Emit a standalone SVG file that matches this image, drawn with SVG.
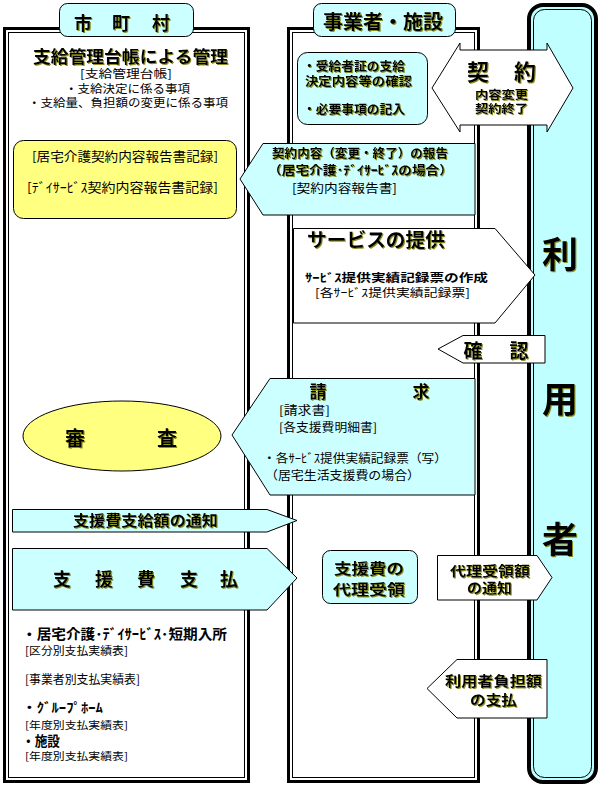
<svg xmlns="http://www.w3.org/2000/svg" width="600" height="787" viewBox="0 0 600 787">
<defs>
<filter id="sh" x="-5%" y="-20%" width="110%" height="140%">
<feDropShadow dx="1" dy="1" stdDeviation="0" flood-color="#7a7a00" flood-opacity="0.85"/>
</filter>
<style>
text{font-family:"Noto Sans CJK JP","Noto Sans CJK SC",sans-serif;fill:#000}
.b{font-weight:700}
.s{filter:url(#sh)}
.m{text-anchor:middle}
.ln{stroke:#000;stroke-width:1}
.cy{fill:#CCFFFF}
.ye{fill:#FFFF80}
.wh{fill:#FFFFFF}
.thick{fill:none;stroke:#000;stroke-width:3}
.thin{fill:none;stroke:#000;stroke-width:1}
</style>
</defs>
<rect width="600" height="787" fill="#fff"/>

<g id="panel-municipality">
<rect x="4.5" y="28.5" width="244" height="753" class="thick" fill="#fff"/>
<rect x="8.5" y="32.5" width="236" height="745" class="thin"/>
<rect x="59.5" y="3.5" width="134" height="33" rx="8" class="cy ln"/>
<text class="b s m" x="83" y="30" font-size="18">市</text>
<text class="b s m" x="121" y="30" font-size="18">町</text>
<text class="b s m" x="161" y="30" font-size="18">村</text>
<text class="b s m" x="130.5" y="63" font-size="16.5" textLength="195" lengthAdjust="spacingAndGlyphs">支給管理台帳による管理</text>
<text class="m" x="126" y="78" font-size="11.5" textLength="92" lengthAdjust="spacingAndGlyphs">[支給管理台帳]</text>
<text class="m" x="127.5" y="92.5" font-size="11.5" textLength="125" lengthAdjust="spacingAndGlyphs">・支給決定に係る事項</text>
<text class="m" x="128" y="107" font-size="11.5" textLength="200" lengthAdjust="spacingAndGlyphs">・支給量、負担額の変更に係る事項</text>
</g>

<g id="panel-provider">
<rect x="288.5" y="28.5" width="190" height="753" class="thick" fill="#fff"/>
<rect x="292.5" y="32.5" width="182" height="745" class="thin"/>
<rect x="313.5" y="3.5" width="142" height="33" rx="8" class="cy ln"/>
<text class="b s m" x="383" y="29" font-size="19" textLength="120" lengthAdjust="spacingAndGlyphs">事業者・施設</text>
</g>

<g id="panel-user">
<rect x="529" y="5" width="67" height="777" rx="14" fill="#C0FFFF" stroke="#000" stroke-width="4"/>
<rect x="533.5" y="9.5" width="58" height="768" rx="11" class="thin"/>
<text class="b s m" x="560" y="268" font-size="36">利</text>
<text class="b s m" x="560" y="413" font-size="36">用</text>
<text class="b s m" x="560" y="553" font-size="36">者</text>
</g>

<g id="node-report-record">
<rect x="13.5" y="140.5" width="223" height="78" rx="10" class="ye ln"/>
<text class="m" x="125" y="161" font-size="13" textLength="186" lengthAdjust="spacingAndGlyphs">[居宅介護契約内容報告書記録]</text>
<text class="m" x="122.5" y="192" font-size="13" textLength="191" lengthAdjust="spacingAndGlyphs">[ﾃﾞｲｻｰﾋﾞｽ契約内容報告書記録]</text>
</g>

<g id="node-review">
<ellipse cx="122" cy="436" rx="99" ry="35" class="ye ln"/>
<text class="b s m" x="75" y="446" font-size="20">審</text>
<text class="b s m" x="167" y="446" font-size="20">査</text>
</g>

<g id="node-payment-records">
<text class="b" x="22" y="639" font-size="14" textLength="205" lengthAdjust="spacingAndGlyphs">・居宅介護･ﾃﾞｲｻｰﾋﾞｽ･短期入所</text>
<text x="25" y="655" font-size="11.5" textLength="103" lengthAdjust="spacingAndGlyphs">[区分別支払実績表]</text>
<text x="25" y="684" font-size="12" textLength="115" lengthAdjust="spacingAndGlyphs">[事業者別支払実績表]</text>
<text class="b" x="22" y="712" font-size="13" textLength="81" lengthAdjust="spacingAndGlyphs">・ｸﾞﾙｰﾌﾟﾎｰﾑ</text>
<text x="25" y="729" font-size="10" textLength="103" lengthAdjust="spacingAndGlyphs">[年度別支払実績表]</text>
<text class="b" x="22" y="746" font-size="14" textLength="38" lengthAdjust="spacingAndGlyphs">・施設</text>
<text x="25" y="760" font-size="10" textLength="103" lengthAdjust="spacingAndGlyphs">[年度別支払実績表]</text>
</g>

<g id="node-check">
<rect x="297.5" y="52.5" width="130" height="72" rx="10" class="cy ln"/>
<text class="b s" x="303" y="71" font-size="12" textLength="102" lengthAdjust="spacingAndGlyphs">・受給者証の支給</text>
<text class="b s" x="305" y="86" font-size="12" textLength="107" lengthAdjust="spacingAndGlyphs">決定内容等の確認</text>
<text class="b s" x="303" y="114" font-size="12" textLength="102" lengthAdjust="spacingAndGlyphs">・必要事項の記入</text>
</g>

<g id="node-proxy">
<rect x="322.5" y="550.5" width="95" height="53" rx="8" class="cy ln"/>
<text class="b s m" x="369" y="574" font-size="14.5" textLength="70" lengthAdjust="spacingAndGlyphs">支援費の</text>
<text class="b s m" x="369" y="595" font-size="14.5" textLength="72" lengthAdjust="spacingAndGlyphs">代理受領</text>
</g>

<g id="connectors">
<g id="arrow-contract">
<polygon points="432,88 460,43 460,50 547,50 547,43 573,88 547,132 547,125 460,125 460,132" class="wh ln"/>
<text class="b s m" x="478" y="80" font-size="22">契</text>
<text class="b s m" x="525" y="80" font-size="22">約</text>
<text class="b s m" x="501.5" y="99" font-size="11.5" textLength="53" lengthAdjust="spacingAndGlyphs">内容変更</text>
<text class="b s m" x="501.5" y="112.5" font-size="11.5" textLength="53" lengthAdjust="spacingAndGlyphs">契約終了</text>
</g>
<g id="arrow-report">
<polygon points="240,179 263,143.5 475,143.5 475,215 263,215" class="cy ln"/>
<text class="b s m" x="360" y="158" font-size="12" textLength="176" lengthAdjust="spacingAndGlyphs">契約内容（変更・終了）の報告</text>
<text class="b s m" x="360.5" y="175" font-size="12" textLength="185" lengthAdjust="spacingAndGlyphs">（居宅介護･ﾃﾞｲｻｰﾋﾞｽの場合）</text>
<text x="292" y="192.5" font-size="12.5" textLength="105" lengthAdjust="spacingAndGlyphs">[契約内容報告書]</text>
</g>
<g id="arrow-service">
<polygon points="293.5,228.5 495,228.5 535,275 495,323 293.5,323" class="wh ln"/>
<text class="b s" x="307" y="247" font-size="19" textLength="138" lengthAdjust="spacingAndGlyphs">サービスの提供</text>
<text class="b" x="305" y="282" font-size="11.5" textLength="183" lengthAdjust="spacingAndGlyphs">ｻｰﾋﾞｽ提供実績記録票の作成</text>
<text x="315" y="297" font-size="11.5" textLength="155" lengthAdjust="spacingAndGlyphs">[各ｻｰﾋﾞｽ提供実績記録票]</text>
</g>
<g id="arrow-confirm">
<polygon points="438,349 463,335.5 545,335.5 545,363 463,363" class="wh ln"/>
<text class="b s m" x="473" y="358" font-size="19">確</text>
<text class="b s m" x="519" y="358" font-size="19">認</text>
</g>
<g id="arrow-claim">
<polygon points="232,435 270,378.5 475,378.5 475,495 270,495" class="cy ln"/>
<text class="b s m" x="318" y="398" font-size="17">請</text>
<text class="b s m" x="421" y="398" font-size="17">求</text>
<text x="279" y="414.5" font-size="12" textLength="51" lengthAdjust="spacingAndGlyphs">[請求書]</text>
<text x="279" y="432" font-size="12" textLength="98" lengthAdjust="spacingAndGlyphs">[各支援費明細書]</text>
<text x="263" y="463" font-size="12" textLength="184" lengthAdjust="spacingAndGlyphs">・各ｻｰﾋﾞｽ提供実績記録票（写）</text>
<text x="265" y="479.5" font-size="12" textLength="155" lengthAdjust="spacingAndGlyphs">（居宅生活支援費の場合）</text>
</g>
<g id="arrow-notice">
<polygon points="12.5,509.5 267,509.5 297,520.5 267,532 12.5,532" class="cy ln"/>
<text class="b s m" x="145.5" y="526" font-size="15" textLength="145" lengthAdjust="spacingAndGlyphs">支援費支給額の通知</text>
</g>
<g id="arrow-payment">
<polygon points="12.5,548.5 267,548.5 297,578 267,610 12.5,610" class="cy ln"/>
<text class="b s m" x="62" y="586" font-size="18">支</text>
<text class="b s m" x="104" y="586" font-size="18">援</text>
<text class="b s m" x="146" y="586" font-size="18">費</text>
<text class="b s m" x="189" y="586" font-size="18">支</text>
<text class="b s m" x="229" y="586" font-size="18">払</text>
</g>
<g id="arrow-proxy-notice">
<polygon points="437.5,555.5 537,555.5 552,577.5 537,600 437.5,600" class="wh ln"/>
<text class="b s m" x="490" y="576" font-size="13.5" textLength="80" lengthAdjust="spacingAndGlyphs">代理受領額</text>
<text class="b s m" x="489.5" y="593" font-size="13.5" textLength="45" lengthAdjust="spacingAndGlyphs">の通知</text>
</g>
<g id="arrow-user-payment">
<polygon points="427,688.5 457,659.5 547,659.5 547,718 457,718" class="wh ln"/>
<text class="b s m" x="493.5" y="686" font-size="13.5" textLength="97" lengthAdjust="spacingAndGlyphs">利用者負担額</text>
<text class="b s m" x="493.5" y="705" font-size="13.5" textLength="47" lengthAdjust="spacingAndGlyphs">の支払</text>
</g>
</g>
</svg>
